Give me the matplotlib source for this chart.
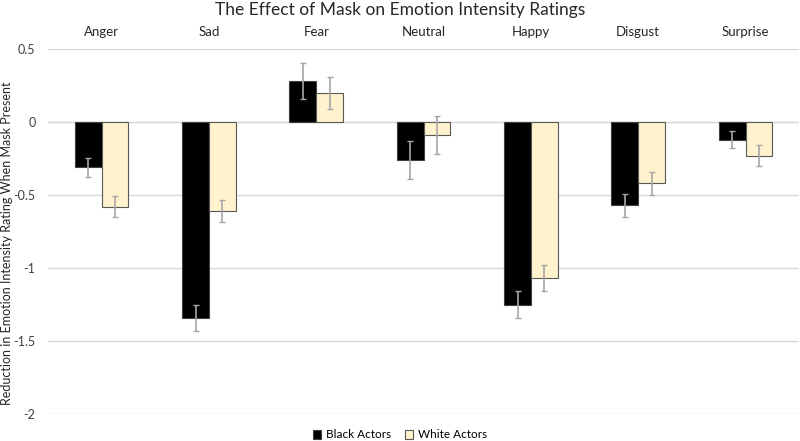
import matplotlib.pyplot as plt
import numpy as np
from matplotlib.ticker import FuncFormatter

plt.rcParams['font.family'] = ['Lato', 'DejaVu Sans']

emotions = ['Anger', 'Sad', 'Fear', 'Neutral', 'Happy', 'Disgust', 'Surprise']
black_actors = [-0.31, -1.34, 0.28, -0.26, -1.25, -0.57, -0.12]
black_err = [0.065, 0.09, 0.125, 0.13, 0.09, 0.08, 0.06]
white_actors = [-0.58, -0.61, 0.20, -0.09, -1.07, -0.42, -0.23]
white_err = [0.07, 0.075, 0.11, 0.13, 0.09, 0.08, 0.07]

fig = plt.figure(figsize=(8, 4.41), dpi=100)
ax = fig.add_axes([0.06, 0.061, 0.939, 0.828])

x = np.arange(len(emotions))
w = 0.25
errkw = dict(ecolor='#A6A6A6', elinewidth=1.2, capsize=2.5, capthick=1)
ax.bar(x - w / 2, black_actors, w, color='black', edgecolor='#404040',
       linewidth=0.8, yerr=black_err, error_kw=errkw, label='Black Actors',
       zorder=3)
ax.bar(x + w / 2, white_actors, w, color='#FFF2CC', edgecolor='#595959',
       linewidth=0.8, yerr=white_err, error_kw=errkw, label='White Actors',
       zorder=3)

ax.set_xlim(-0.5, len(emotions) - 0.5)
ax.set_ylim(-2, 0.5)
ax.set_yticks([0.5, 0, -0.5, -1, -1.5, -2])
ax.yaxis.set_major_formatter(FuncFormatter(lambda v, p: '%g' % v))
ax.grid(axis='y', color='#D9D9D9', linewidth=1, zorder=0)
ax.axhline(0, color='#D9D9D9', linewidth=1, zorder=1)

ax.xaxis.tick_top()
ax.set_xticks(x)
ax.set_xticklabels(emotions, fontsize=9.5, color='#262626')
ax.tick_params(axis='x', length=0, pad=8)
ax.tick_params(axis='y', length=0, labelsize=9, colors='#404040', pad=9)
for s in ax.spines.values():
    s.set_visible(False)

fig.text(0.0085, 0.449, 'Reduction in Emotion Intensity Rating When Mask Present',
         rotation=90, ha='center', va='center', fontsize=9, color='#262626')
fig.text(0.5, 0.978, 'The Effect of Mask on Emotion Intensity Ratings',
         ha='center', va='center', fontsize=12.5, color='#262626')

fig.legend(loc='center', ncol=2, frameon=False, fontsize=8.5,
           bbox_to_anchor=(0.5, 1 - 435 / 441), handlelength=0.7,
           handleheight=0.7, columnspacing=1.2, handletextpad=0.4)

fig.savefig('out.png', dpi=100)
